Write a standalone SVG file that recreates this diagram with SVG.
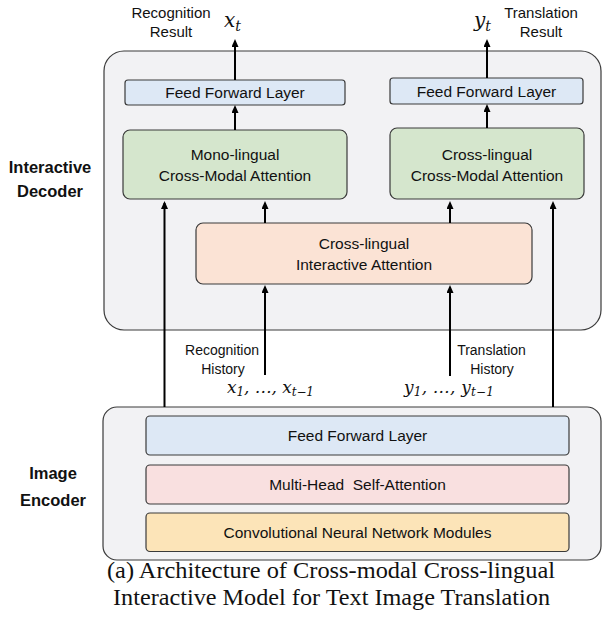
<svg xmlns="http://www.w3.org/2000/svg" width="602" height="621" viewBox="0 0 602 621">
  <style>
    .panel { fill: #f2f2f4; stroke: #3a3a3a; stroke-width: 1.2; }
    .box { stroke: #3a3a3a; stroke-width: 1.2; }
    .ffl { fill: #dde8f5; }
    .green { fill: #d5e6cd; }
    .peach { fill: #fbe3d5; }
    .pink { fill: #f9e0e0; }
    .yellow { fill: #fce4b8; }
    .t { font-family: "Liberation Sans", Arial, sans-serif; fill: #111; text-anchor: middle; }
    .tb { font-size: 15.5px; }
    .tl { font-size: 15px; }
    .th { font-size: 14px; }
    .bold { font-weight: bold; font-size: 16.5px; }
    .math { font-family: "DejaVu Serif", serif; font-style: italic; fill: #111; }
    .cap { font-family: "Liberation Serif", "Times New Roman", serif; font-size: 23px; fill: #111; text-anchor: middle; }
    .conn line { stroke: #000; stroke-width: 2; fill: none; marker-end: url(#arrow); }
  </style>
  <defs>
    <marker id="arrow" markerUnits="userSpaceOnUse" markerWidth="8" markerHeight="7" refX="6" refY="3.5" orient="auto">
      <path d="M0,0 L8,3.5 L0,7 z" fill="#000"/>
    </marker>
  </defs>

  <!-- side labels -->
  <g id="label-decoder">
    <text class="t bold" x="50" y="173">Interactive</text>
    <text class="t bold" x="50" y="197">Decoder</text>
  </g>
  <g id="label-encoder">
    <text class="t bold" x="53" y="479">Image</text>
    <text class="t bold" x="53" y="506">Encoder</text>
  </g>

  <!-- decoder container -->
  <g id="decoder">
    <rect class="panel" x="104" y="51" width="497" height="279" rx="20"/>
  </g>

  <!-- encoder container -->
  <g id="encoder">
    <rect class="panel" x="103" y="407" width="498" height="153" rx="14"/>
  </g>

  <g id="ffl-left">
    <rect class="box ffl" x="125" y="80" width="220" height="25" rx="3"/>
    <text class="t tb" x="235" y="98">Feed Forward Layer</text>
  </g>
  <g id="ffl-right">
    <rect class="box ffl" x="390" y="78" width="193" height="26" rx="3"/>
    <text class="t tb" x="486.5" y="97">Feed Forward Layer</text>
  </g>

  <g id="mono-attn">
    <rect class="box green" x="123" y="130" width="224" height="69" rx="7"/>
    <text class="t tb" x="235" y="160">Mono-lingual</text>
    <text class="t tb" x="235" y="181">Cross-Modal Attention</text>
  </g>
  <g id="cross-attn">
    <rect class="box green" x="390" y="128" width="194" height="71" rx="7"/>
    <text class="t tb" x="487" y="160">Cross-lingual</text>
    <text class="t tb" x="487" y="181">Cross-Modal Attention</text>
  </g>

  <g id="interactive-attn">
    <rect class="box peach" x="196" y="223" width="336" height="61" rx="7"/>
    <text class="t tb" x="364" y="249">Cross-lingual</text>
    <text class="t tb" x="364" y="270">Interactive Attention</text>
  </g>

  <g id="enc-ffl">
    <rect class="box ffl" x="146" y="416" width="423" height="39" rx="4"/>
    <text class="t tb" x="357.5" y="441">Feed Forward Layer</text>
  </g>
  <g id="enc-mhsa">
    <rect class="box pink" x="146" y="465" width="423" height="39" rx="4"/>
    <text class="t tb" x="357.5" y="490" style="white-space:pre">Multi-Head  Self-Attention</text>
  </g>
  <g id="enc-cnn">
    <rect class="box yellow" x="146" y="513" width="423" height="38.5" rx="4"/>
    <text class="t tb" x="357.5" y="538">Convolutional Neural Network Modules</text>
  </g>

  <!-- outputs -->
  <g id="out-recognition">
    <text class="t tl" x="171" y="18">Recognition</text>
    <text class="t tl" x="171" y="37">Result</text>
    <text class="math" x="224" y="27" font-size="20">x<tspan font-size="14" dy="4">t</tspan></text>
  </g>
  <g id="out-translation">
    <text class="t tl" x="541" y="18">Translation</text>
    <text class="t tl" x="541" y="37">Result</text>
    <text class="math" x="474" y="27" font-size="20">y<tspan font-size="14" dy="4">t</tspan></text>
  </g>

  <!-- histories -->
  <g id="hist-recognition">
    <text class="t th" x="222" y="355">Recognition</text>
    <text class="t th" x="223" y="374">History</text>
    <text class="math" x="227" y="393" font-size="17" textLength="87" lengthAdjust="spacing">x<tspan font-size="12" dy="3">1</tspan><tspan dy="-3">, …, x</tspan><tspan font-size="12" dy="3">t−1</tspan></text>
  </g>
  <g id="hist-translation">
    <text class="t th" x="491.5" y="355">Translation</text>
    <text class="t th" x="492" y="374">History</text>
    <text class="math" x="404" y="393" font-size="17" textLength="90" lengthAdjust="spacing">y<tspan font-size="12" dy="3">1</tspan><tspan dy="-3">, …, y</tspan><tspan font-size="12" dy="3">t−1</tspan></text>
  </g>

  <!-- connectors -->
  <g id="connectors" class="conn">
    <line x1="235" y1="80" x2="235" y2="41"/>
    <line x1="235" y1="130" x2="235" y2="107"/>
    <line x1="487" y1="78" x2="487" y2="41"/>
    <line x1="487" y1="128" x2="487" y2="106"/>
    <line x1="265" y1="223" x2="265" y2="203"/>
    <line x1="450" y1="223" x2="450" y2="203"/>
    <line x1="164.5" y1="407" x2="164.5" y2="203"/>
    <line x1="553" y1="407" x2="553" y2="203"/>
    <line x1="265" y1="375" x2="265" y2="287"/>
    <line x1="450" y1="376" x2="450" y2="287"/>
  </g>

  <!-- caption -->
  <g id="caption">
    <text class="cap" x="331" y="578" textLength="448" lengthAdjust="spacingAndGlyphs">(a) Architecture of Cross-modal Cross-lingual</text>
    <text class="cap" x="331.5" y="605" textLength="437" lengthAdjust="spacingAndGlyphs">Interactive Model for Text Image Translation</text>
  </g>
</svg>
